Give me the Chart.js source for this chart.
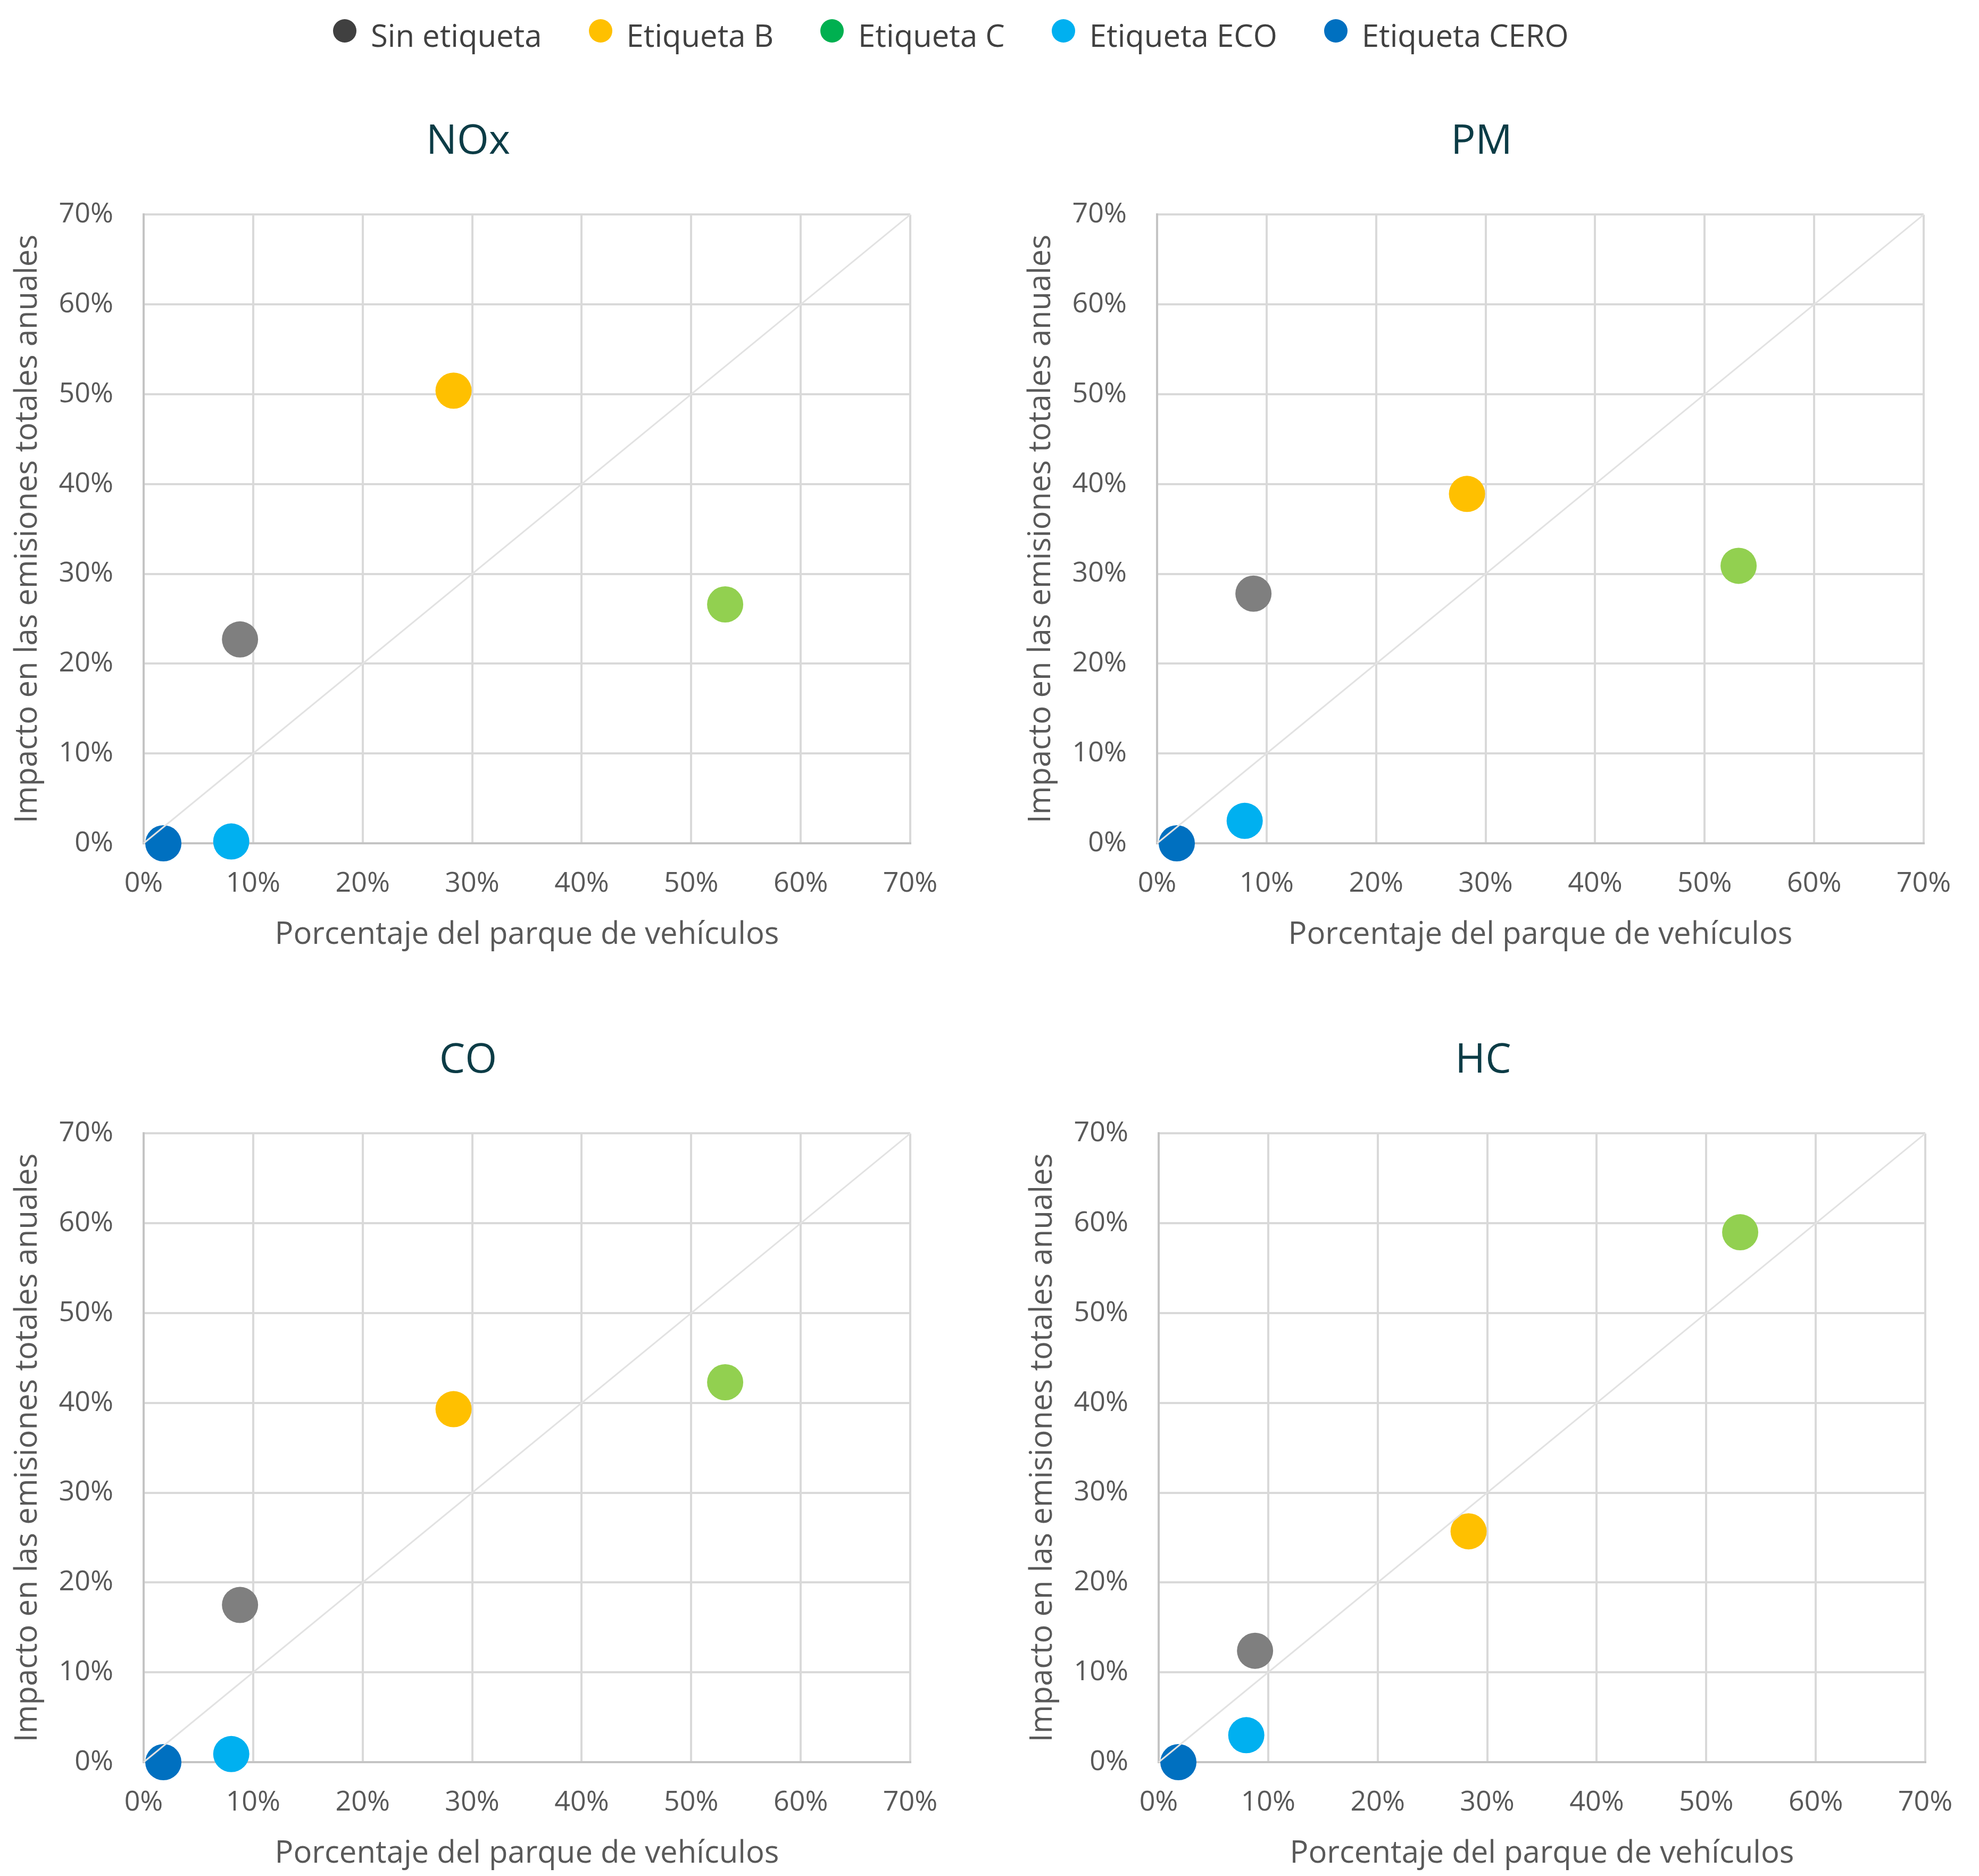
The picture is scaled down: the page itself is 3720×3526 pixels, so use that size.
<!DOCTYPE html>
<html>
<head>
<meta charset="utf-8">
<script src="https://cdn.jsdelivr.net/npm/chart.js@4.4.0/dist/chart.umd.min.js"></script>
<style>
  html, body { margin: 0; padding: 0; background: #fff; overflow: hidden; }
  body { width: 3720px; height: 3526px; position: relative; font-family: 'Open Sans', sans-serif; }
  .panel { position: absolute; }
  #legend { position: absolute; left: 626px; top: 28px; display: flex; align-items: center; gap: 88px; }
  .item { display: flex; align-items: center; font-size: 58px; color: #404040; line-height: 76px; }
  .dot { width: 44px; height: 44px; border-radius: 50%; margin-right: 27px; position: relative; top: -8px; }
</style>
</head>
<body>
<div id="legend"></div>
<canvas id="nox" class="panel" width="1760" height="1595" style="left:0px;top:200px"></canvas>
<canvas id="pm" class="panel" width="1760" height="1595" style="left:1905px;top:200px"></canvas>
<canvas id="co" class="panel" width="1760" height="1595" style="left:0px;top:1927px"></canvas>
<canvas id="hc" class="panel" width="1760" height="1595" style="left:1908px;top:1927px"></canvas>
<script>
// Categories (vehicle labels)
const categories = ['Sin etiqueta', 'Etiqueta B', 'Etiqueta C', 'Etiqueta ECO', 'Etiqueta CERO'];

// Share of the vehicle fleet (%), same for all pollutants
const parque = [8.8, 28.3, 53.1, 8.0, 1.8];

// Share of total annual emissions (%)
const impactoNOx = [22.7, 50.4, 26.6, 0.2, 0.0];
const impactoPM = [27.8, 38.9, 30.9, 2.5, 0.0];
const impactoCO = [17.5, 39.3, 42.3, 0.9, 0.0];
const impactoHC = [12.4, 25.7, 59.0, 3.0, 0.0];

// Axis ticks (%)
const axisMin = 0;
const axisMax = 70;
const axisStep = 10;

// Reference line x = y
const diagonal = [0, 70];

const pointColors = ['#7f7f7f', '#ffc000', '#92d050', '#00b0f0', '#0070c0'];
const legendColors = ['#404040', '#ffc000', '#00b050', '#00b0f0', '#0070c0'];

// Legend
const legend = document.getElementById('legend');
categories.forEach((name, i) => {
    const item = document.createElement('div');
    item.className = 'item';
    const dot = document.createElement('span');
    dot.className = 'dot';
    dot.style.background = legendColors[i];
    item.appendChild(dot);
    item.appendChild(document.createTextNode(name));
    legend.appendChild(item);
});

const FONT = "'Open Sans', sans-serif";

function axis(title, isX) {
    return {
        type: 'linear',
        min: axisMin,
        max: axisMax,
        ticks: {
            stepSize: axisStep,
            color: '#595959',
            font: { family: FONT, size: 52 },
            padding: isX ? 45 : 57,
            callback: v => v + '%'
        },
        grid: { color: '#d9d9d9', lineWidth: 4, drawTicks: false },
        border: { display: true, color: '#c4c4c4', width: 4 },
        title: {
            display: true,
            text: title,
            color: '#595959',
            font: { family: FONT, size: 58 },
            padding: isX ? { top: 0, bottom: 3 } : { top: 18, bottom: 0 }
        },
        afterFit: scale => {
            if (isX) {
                scale.height = 210;
                scale.paddingLeft = 0;
                scale.paddingRight = 49;   // space right of the plot
            } else {
                scale.width = 270;
            }
        }
    };
}

function drawPanel(id, name, values) {
    const ctx = document.getElementById(id).getContext('2d');
    const datasets = [{
        label: 'diagonal',
        data: diagonal.map(v => ({ x: v, y: v })),
        showLine: true,
        borderColor: '#e2e2e2',
        borderWidth: 3,
        pointRadius: 0,
        order: 0,
        clip: false
    }];
    categories.forEach((cat, i) => {
        datasets.push({
            label: cat,
            data: [{ x: parque[i], y: values[i] }],
            backgroundColor: pointColors[i],
            borderWidth: 0,
            pointRadius: 34,
            order: 1,
            clip: false
        });
    });

    new Chart(ctx, {
        type: 'scatter',
        data: { datasets: datasets },
        options: {
            responsive: false,
            animation: false,
            layout: { padding: 0 },
            plugins: {
                legend: { display: false },
                tooltip: { enabled: false },
                title: {
                    display: true,
                    text: name,
                    color: '#0c3c46',
                    font: { family: FONT, size: 77, weight: 'normal' },
                    padding: { top: 21, bottom: 90 }
                }
            },
            scales: {
                x: axis('Porcentaje del parque de vehículos', true),
                y: axis('Impacto en las emisiones totales anuales', false)
            }
        }
    });
}

drawPanel('nox', 'NOx', impactoNOx);
drawPanel('pm', 'PM', impactoPM);
drawPanel('co', 'CO', impactoCO);
drawPanel('hc', 'HC', impactoHC);
</script>
</body>
</html>
